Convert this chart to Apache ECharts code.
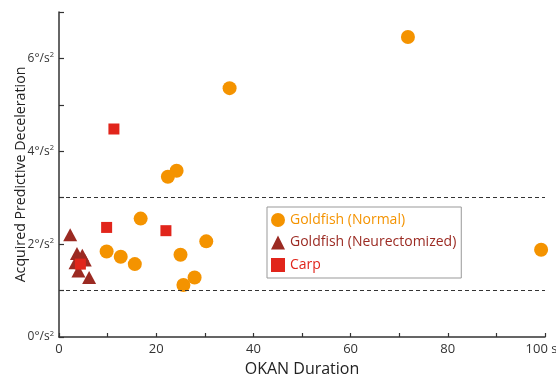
<!DOCTYPE html>
<html>
<head>
<meta charset="utf-8">
<script src="https://cdn.jsdelivr.net/npm/echarts@6/dist/echarts.min.js"></script>
<style>html,body{margin:0;padding:0;background:#fff}#c{width:556px;height:375px}</style>
</head>
<body>
<div id="c"></div>
<script>
// Data
var normalX = [71.8, 35.1, 24.2, 22.4, 16.8, 9.8, 12.7, 15.6, 25.0, 30.3, 27.9, 25.6, 99.2];
var normalY = [6.46, 5.36, 3.58, 3.45, 2.55, 1.84, 1.73, 1.57, 1.77, 2.06, 1.28, 1.12, 1.88];
var neurX = [2.3, 3.7, 4.8, 5.3, 3.4, 4.0, 6.2];
var neurY = [2.2, 1.8, 1.76, 1.66, 1.6, 1.42, 1.28];
var carpX = [11.3, 9.8, 22.0, 4.4];
var carpY = [4.48, 2.36, 2.29, 1.57];
var thresholds = [1, 3];
var seriesNames = ['Goldfish (Normal)', 'Goldfish (Neurectomized)', 'Carp'];
var xTickLabels = {0: '0', 20: '20', 40: '40', 60: '60', 80: '80', 100: '100 s'};
var yTickLabels = {0: '0°/s', 2: '2°/s', 4: '4°/s', 6: '6°/s'};

function pairs(xs, ys) { return xs.map(function (x, i) { return [x, ys[i]]; }); }

var FONT = 'Open Sans';
var cOrange = '#F49300', cDark = '#9B2A22', cRed = '#E1251B';

var chart = echarts.init(document.getElementById('c'));
chart.setOption({
  animation: false,
  textStyle: { fontFamily: FONT },
  grid: { left: 59, right: 11, top: 12, bottom: 38, containLabel: false, outerBoundsMode: 'none' },
  xAxis: {
    type: 'value', min: 0, max: 100, interval: 10,
    name: 'OKAN Duration', nameLocation: 'middle', nameGap: 24, nameMoveOverlap: false,
    nameTextStyle: { fontSize: 16, color: '#222', fontFamily: FONT },
    axisLine: { lineStyle: { color: '#333', width: 1.5 } },
    axisTick: { inside: true, length: 4, lineStyle: { color: '#333', width: 1.2 } },
    splitLine: { show: false },
    axisLabel: {
      fontSize: 13, color: '#333', margin: 6, showMaxLabel: true,
      formatter: function (v) {
        if (xTickLabels[v] === undefined) return '';
        return v === 100 ? '{m|' + xTickLabels[v] + '}' : xTickLabels[v];
      },
      rich: { m: { fontSize: 13, color: '#333', fontFamily: FONT, padding: [0, 7, 0, 0] } }
    }
  },
  yAxis: {
    type: 'value', min: 0, max: 7, interval: 1,
    name: 'Acquired Predictive Deceleration', nameLocation: 'middle', nameGap: 31, nameMoveOverlap: false,
    nameTextStyle: { fontSize: 14.2, color: '#222', fontFamily: FONT },
    axisLine: { lineStyle: { color: '#333', width: 1.5 } },
    axisTick: { inside: true, length: 5, lineStyle: { color: '#333', width: 1.2 } },
    splitLine: { show: false },
    axisLabel: {
      color: '#333', margin: 5,
      formatter: function (v) { return yTickLabels[v] !== undefined ? '{n|' + yTickLabels[v] + '}{s|2}' : ''; },
      rich: {
        n: { fontSize: 12, color: '#333', fontFamily: FONT },
        s: { fontSize: 7.5, color: '#333', fontFamily: FONT, padding: [0, 0, 7, 0] }
      }
    }
  },
  legend: {
    orient: 'vertical', left: 267, top: 207,
    padding: [6, 5, 6, 4], itemGap: 8.5, itemWidth: 14, itemHeight: 14,
    borderColor: '#999', borderWidth: 1,
    textStyle: { fontSize: 14, fontFamily: FONT },
    data: [
      { name: seriesNames[0], icon: 'circle', textStyle: { color: cOrange } },
      { name: seriesNames[1], icon: 'triangle', textStyle: { color: cDark } },
      { name: seriesNames[2], icon: 'rect', textStyle: { color: cRed } }
    ]
  },
  series: [
    {
      name: seriesNames[0], type: 'scatter', symbol: 'circle', symbolSize: 14,
      itemStyle: { color: cOrange, opacity: 1 }, data: pairs(normalX, normalY),
      markLine: {
        silent: true, symbol: ['none', 'none'], label: { show: false },
        lineStyle: { color: '#333', type: [4, 3], width: 1.2 },
        data: thresholds.map(function (t) { return { yAxis: t }; })
      }
    },
    {
      name: seriesNames[1], type: 'scatter', symbol: 'triangle', symbolSize: [14, 13],
      itemStyle: { color: cDark, opacity: 1 }, data: pairs(neurX, neurY)
    },
    {
      name: seriesNames[2], type: 'scatter', symbol: 'rect', symbolSize: 11,
      itemStyle: { color: cRed, opacity: 1 }, data: pairs(carpX, carpY)
    }
  ]
});
</script>
</body>
</html>
